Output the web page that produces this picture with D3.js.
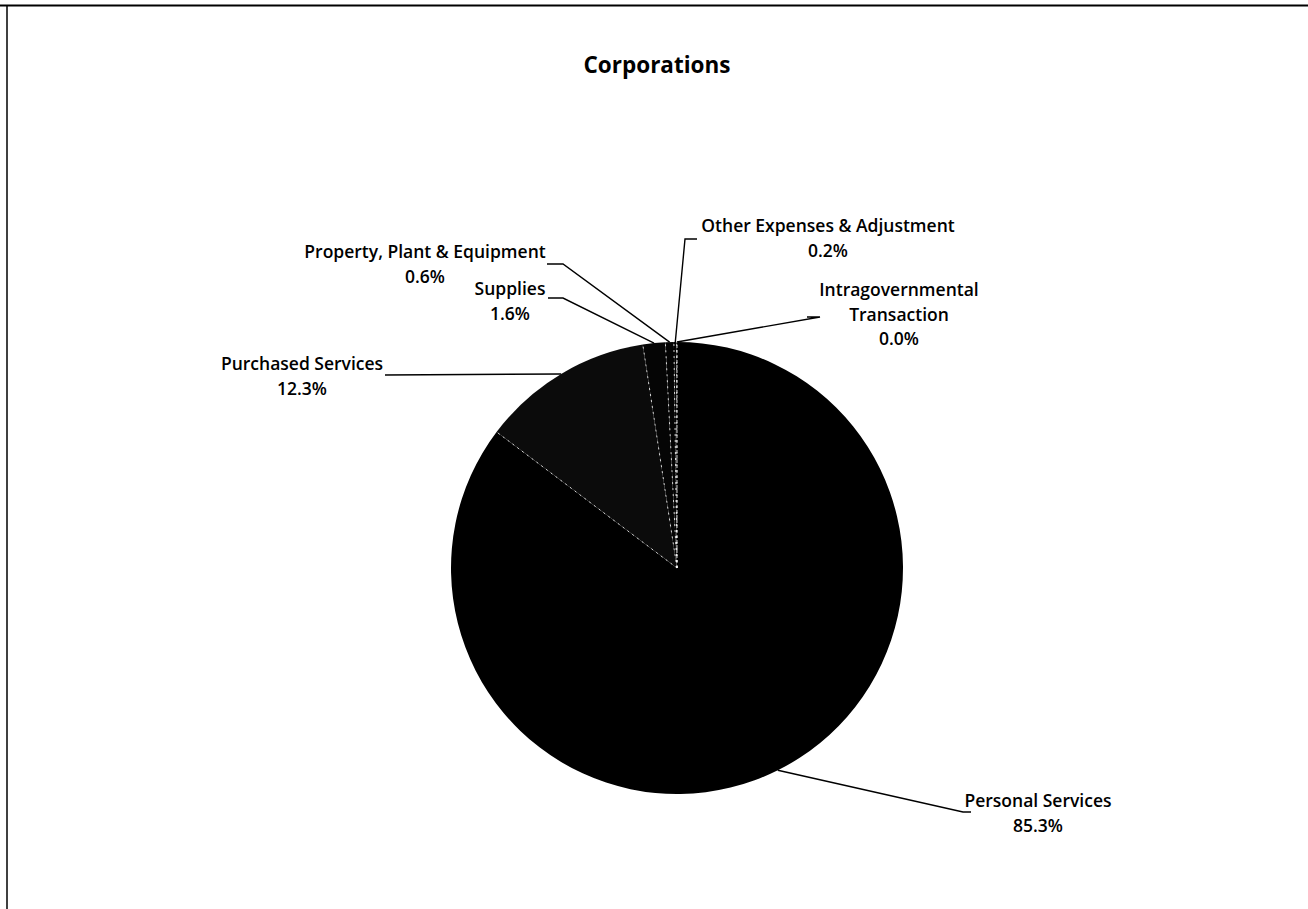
<!DOCTYPE html>
<html>
<head>
<meta charset="utf-8">
<script src="https://cdn.jsdelivr.net/npm/d3@7"></script>
<style>
  html, body { margin: 0; padding: 0; background: #fff; }
  svg { display: block; }
</style>
</head>
<body>
<svg id="chart" width="1308" height="909"></svg>
<script>
// ---- data ----
const categories = ["Personal Services", "Purchased Services", "Supplies",
                    "Property, Plant & Equipment", "Other Expenses & Adjustment",
                    "Intragovernmental Transaction"];
const shares = [85.3, 12.3, 1.6, 0.6, 0.2, 0.02];
const labelLines = [
  ["Personal Services", "85.3%"],
  ["Purchased Services", "12.3%"],
  ["Supplies", "1.6%"],
  ["Property, Plant & Equipment", "0.6%"],
  ["Other Expenses & Adjustment", "0.2%"],
  ["Intragovernmental", "Transaction", "0.0%"]
];
const title = "Corporations";

// ---- layout (not data) ----
const W = 1308, H = 909;
const cx = 677, cy = 568, R = 226;
const fills = ["#000000", "#0b0b0b", "#050505", "#030303", "#020202", "#000000"];
// label anchor: text center x, first baseline y, elbow point, end point of the leader
const labelLayout = [
  { tx: 1038, ty: 807, ex: 963, ey: 812, hx: 971 },
  { tx: 302, ty: 370, ex: 385, ey: 375, hx: 385 },
  { tx: 510, ty: 295, ex: 563, ey: 298, hx: 548 },
  { tx: 425, ty: 258, ex: 563, ey: 264, hx: 547 },
  { tx: 828, ty: 232, ex: 685, ey: 239, hx: 697 },
  { tx: 899, ty: 296, ex: 820, ey: 317, hx: 807 }
];

const svg = d3.select("#chart");

// frame
svg.append("line").attr("x1", 0).attr("x2", W).attr("y1", 5.5).attr("y2", 5.5)
  .attr("stroke", "#000").attr("stroke-width", 2);
svg.append("line").attr("x1", 7).attr("x2", 7).attr("y1", 5).attr("y2", H)
  .attr("stroke", "#000").attr("stroke-width", 1.5);

// title
svg.append("text")
  .attr("x", 657).attr("y", 73)
  .attr("text-anchor", "middle")
  .attr("font-family", "'Open Sans', 'Liberation Sans', sans-serif")
  .attr("font-weight", "bold")
  .attr("font-size", 22.5)
  .attr("fill", "#000")
  .text(title);

const data = categories.map((c, i) => ({ name: c, value: shares[i], i }));
const pie = d3.pie().value(d => d.value).sort(null).startAngle(0).endAngle(2 * Math.PI);
const arcs = pie(data);
const arc = d3.arc().innerRadius(0).outerRadius(R);
const edge = d3.arc().innerRadius(R).outerRadius(R);

const g = svg.append("g").attr("transform", `translate(${cx},${cy})`);
g.selectAll("path.slice")
  .data(arcs)
  .join("path")
  .attr("class", "slice")
  .attr("d", arc)
  .attr("fill", d => fills[d.data.i]);

// light separators between slices
g.selectAll("line.sep")
  .data(arcs)
  .join("line")
  .attr("class", "sep")
  .attr("x1", 0).attr("y1", 0)
  .attr("x2", d => R * Math.sin(d.startAngle))
  .attr("y2", d => -R * Math.cos(d.startAngle))
  .attr("stroke", "#fff")
  .attr("stroke-width", 0.8)
  .attr("stroke-dasharray", d => d.data.i === 0 ? "3,2" : "2,4");

// leader lines
const leaders = svg.append("g");
arcs.forEach(d => {
  const L = labelLayout[d.data.i];
  const [px, py] = edge.centroid(d);
  leaders.append("polyline")
    .attr("points", [[cx + px, cy + py], [L.ex, L.ey], [L.hx, L.ey]].map(p => p.join(",")).join(" "))
    .attr("fill", "none")
    .attr("stroke", "#000")
    .attr("stroke-width", 1.4);
});

// labels
const labels = svg.append("g")
  .attr("font-family", "'Open Sans', 'Liberation Sans', sans-serif")
  .attr("font-size", 17.5)
  .attr("font-weight", 600)
  .attr("fill", "#000")
  .attr("text-anchor", "middle");
arcs.forEach(d => {
  const L = labelLayout[d.data.i];
  const t = labels.append("text").attr("x", L.tx).attr("y", L.ty);
  labelLines[d.data.i].forEach((s, k) => {
    t.append("tspan").attr("x", L.tx).attr("y", L.ty + k * 24.5).text(s);
  });
});
</script>
</body>
</html>
